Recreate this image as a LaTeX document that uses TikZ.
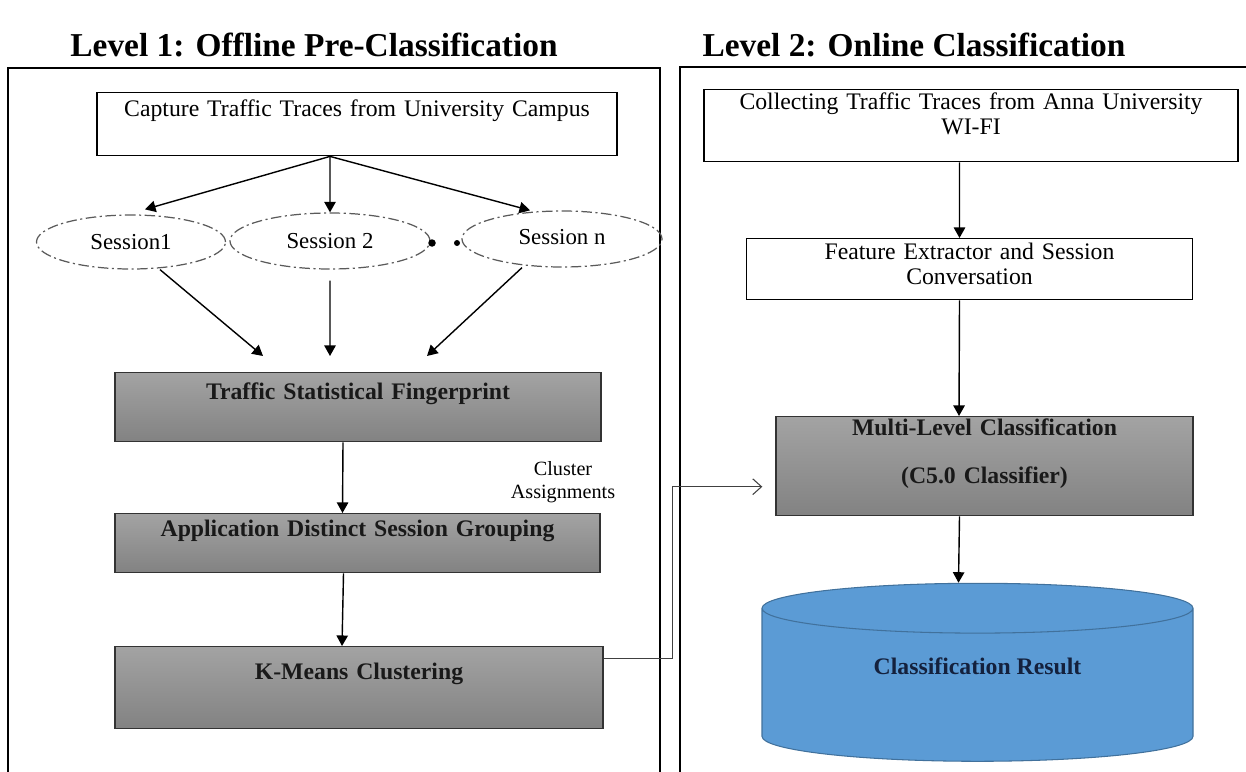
\documentclass[tikz,border=0pt]{standalone}
\usepackage{fontspec}
\setmainfont{Liberation Serif}
\usetikzlibrary{arrows.meta,positioning,shapes.geometric}
\definecolor{boxgreytop}{HTML}{A3A3A3}
\definecolor{boxgreybot}{HTML}{828282}
\definecolor{dbblue}{HTML}{5B9BD5}
\definecolor{dbedge}{HTML}{41719C}
\definecolor{dbtext}{HTML}{14213D}
\definecolor{ringgrey}{HTML}{5A5A5A}

\begin{document}
\begin{tikzpicture}[x=0.2mm,y=-0.2mm,
    plainbox/.style={draw,line width=0.8pt,inner xsep=0pt,inner ysep=0pt,align=center,anchor=north,font=\fontsize{13.5}{14}\selectfont},
    greybox/.style={plainbox,draw=black!80,top color=boxgreytop,bottom color=boxgreybot,text=black!90,font=\bfseries\fontsize{13.5}{14}\selectfont},
    session/.style={ellipse,draw=ringgrey,line width=0.7pt,dash pattern=on 6pt off 2pt on 1.2pt off 2pt,inner sep=0pt,font=\fontsize{13}{14}\selectfont},
    flow/.style={-{Triangle[width=6.5pt,length=6pt]},line width=0.8pt},
    panel/.style={line width=1pt}]
    \useasboundingbox (0,0) rectangle (1246,772);

    % titles and frames
    \node[font=\bfseries\fontsize{19}{22}\selectfont] (lvl1) at (314,45) {Level 1: Offline Pre-Classification};
    \node[font=\bfseries\fontsize{19}{22}\selectfont] (lvl2) at (914,45) {Level 2: Online Classification};
    \draw[panel] (8,772) -- (8,68) -- (660,68) -- (660,772);
    \draw[panel] (680,772) -- (680,67) -- (1246,67);

    % level 1
    \node[plainbox,text width=104mm,text height=4.8mm,text depth=7.8mm] (cap) at (357,92) {Capture Traffic Traces from University Campus};
    \node[session,minimum width=37.8mm,minimum height=10.8mm] (s1) at (131,242) {Session1};
    \node[session,minimum width=40mm,minimum height=11.2mm] (s2) at (330,241) {Session 2};
    \node[session,minimum width=40mm,minimum height=11.2mm] (sn) at (562,239) {\raisebox{1mm}{Session n}};
    \fill (432,243) circle (0.75mm);
    \fill (457,243) circle (0.6mm);
    \node[greybox,text width=97.2mm,text height=5.4mm,text depth=8.4mm] (tsf) at (358,372) {Traffic Statistical Fingerprint};
    \node[greybox,text width=97mm,text height=4.6mm,text depth=7.2mm] (adsg) at (357.5,513) {Application Distinct Session Grouping};
    \node[greybox,text width=97.6mm,text height=6.6mm,text depth=9.8mm] (kmc) at (359,646) {K-Means Clustering};
    \node[align=center,font=\fontsize{11.5}{13}\selectfont] (clab) at (563,482) {Cluster\\Assignments};

    \draw[flow] ([xshift=-5.4mm]cap.south) -- ([xshift=2.8mm,yshift=1mm]s1.north);
    \draw[flow] ([xshift=-5.4mm]cap.south) -- (s2.north);
    \draw[flow] ([xshift=-5.4mm]cap.south) -- ([xshift=-6.4mm]sn.north);
    \draw[flow] ([xshift=5.8mm]s1.south) -- ([xshift=-19mm,yshift=3.2mm]tsf.north);
    \draw[flow] ([yshift=-2.2mm]s2.south) -- ([xshift=-5.6mm,yshift=3.2mm]tsf.north);
    \draw[flow] ([xshift=-8mm]sn.south) -- ([xshift=13.8mm,yshift=3.2mm]tsf.north);
    \draw[flow] ([xshift=-3mm]tsf.south) -- ([xshift=-3mm]adsg.north);
    \draw[flow] ([xshift=-2.8mm]adsg.south) -- ([xshift=-3.4mm]kmc.north);

    % level 2
    \node[plainbox,text width=106.8mm,text height=4mm,text depth=10.4mm] (coll) at (971,89) {Collecting Traffic Traces from Anna University\\WI-FI};
    \node[plainbox,text width=89.2mm,text height=4.2mm,text depth=8mm] (fext) at (969.5,238) {Feature Extractor and Session\\Conversation};
    \node[greybox,text width=83.4mm,text height=3.8mm,text depth=16mm] (mlc) at (984.5,416) {Multi-Level Classification\\[4.7mm](C5.0 Classifier)};
    \node[cylinder,shape border rotate=90,aspect=0.24,draw=dbedge,fill=dbblue,line width=0.6pt,minimum width=86.2mm,minimum height=35.6mm,inner sep=0pt,text depth=7.6mm,text=dbtext,font=\bfseries\fontsize{13.5}{14}\selectfont] (cyl) at (977.5,685) {Classification Result};

    \draw[flow] ([xshift=-2.3mm]coll.south) -- ([xshift=-2mm]fext.north);
    \draw[flow] ([xshift=-2mm]fext.south) -- ([xshift=-5.1mm]mlc.north);
    \draw[flow] ([xshift=-5mm]mlc.south) -- ([xshift=-3.8mm]cyl.north);

    \draw[-{Straight Barb[length=5pt,width=9pt]},line width=0.6pt,black!75] ([yshift=5.8mm]kmc.east) -- ++(13.8mm,0) |- ([xshift=-2.6mm,yshift=-4.1mm]mlc.west);
  \end{tikzpicture}
\end{document}
